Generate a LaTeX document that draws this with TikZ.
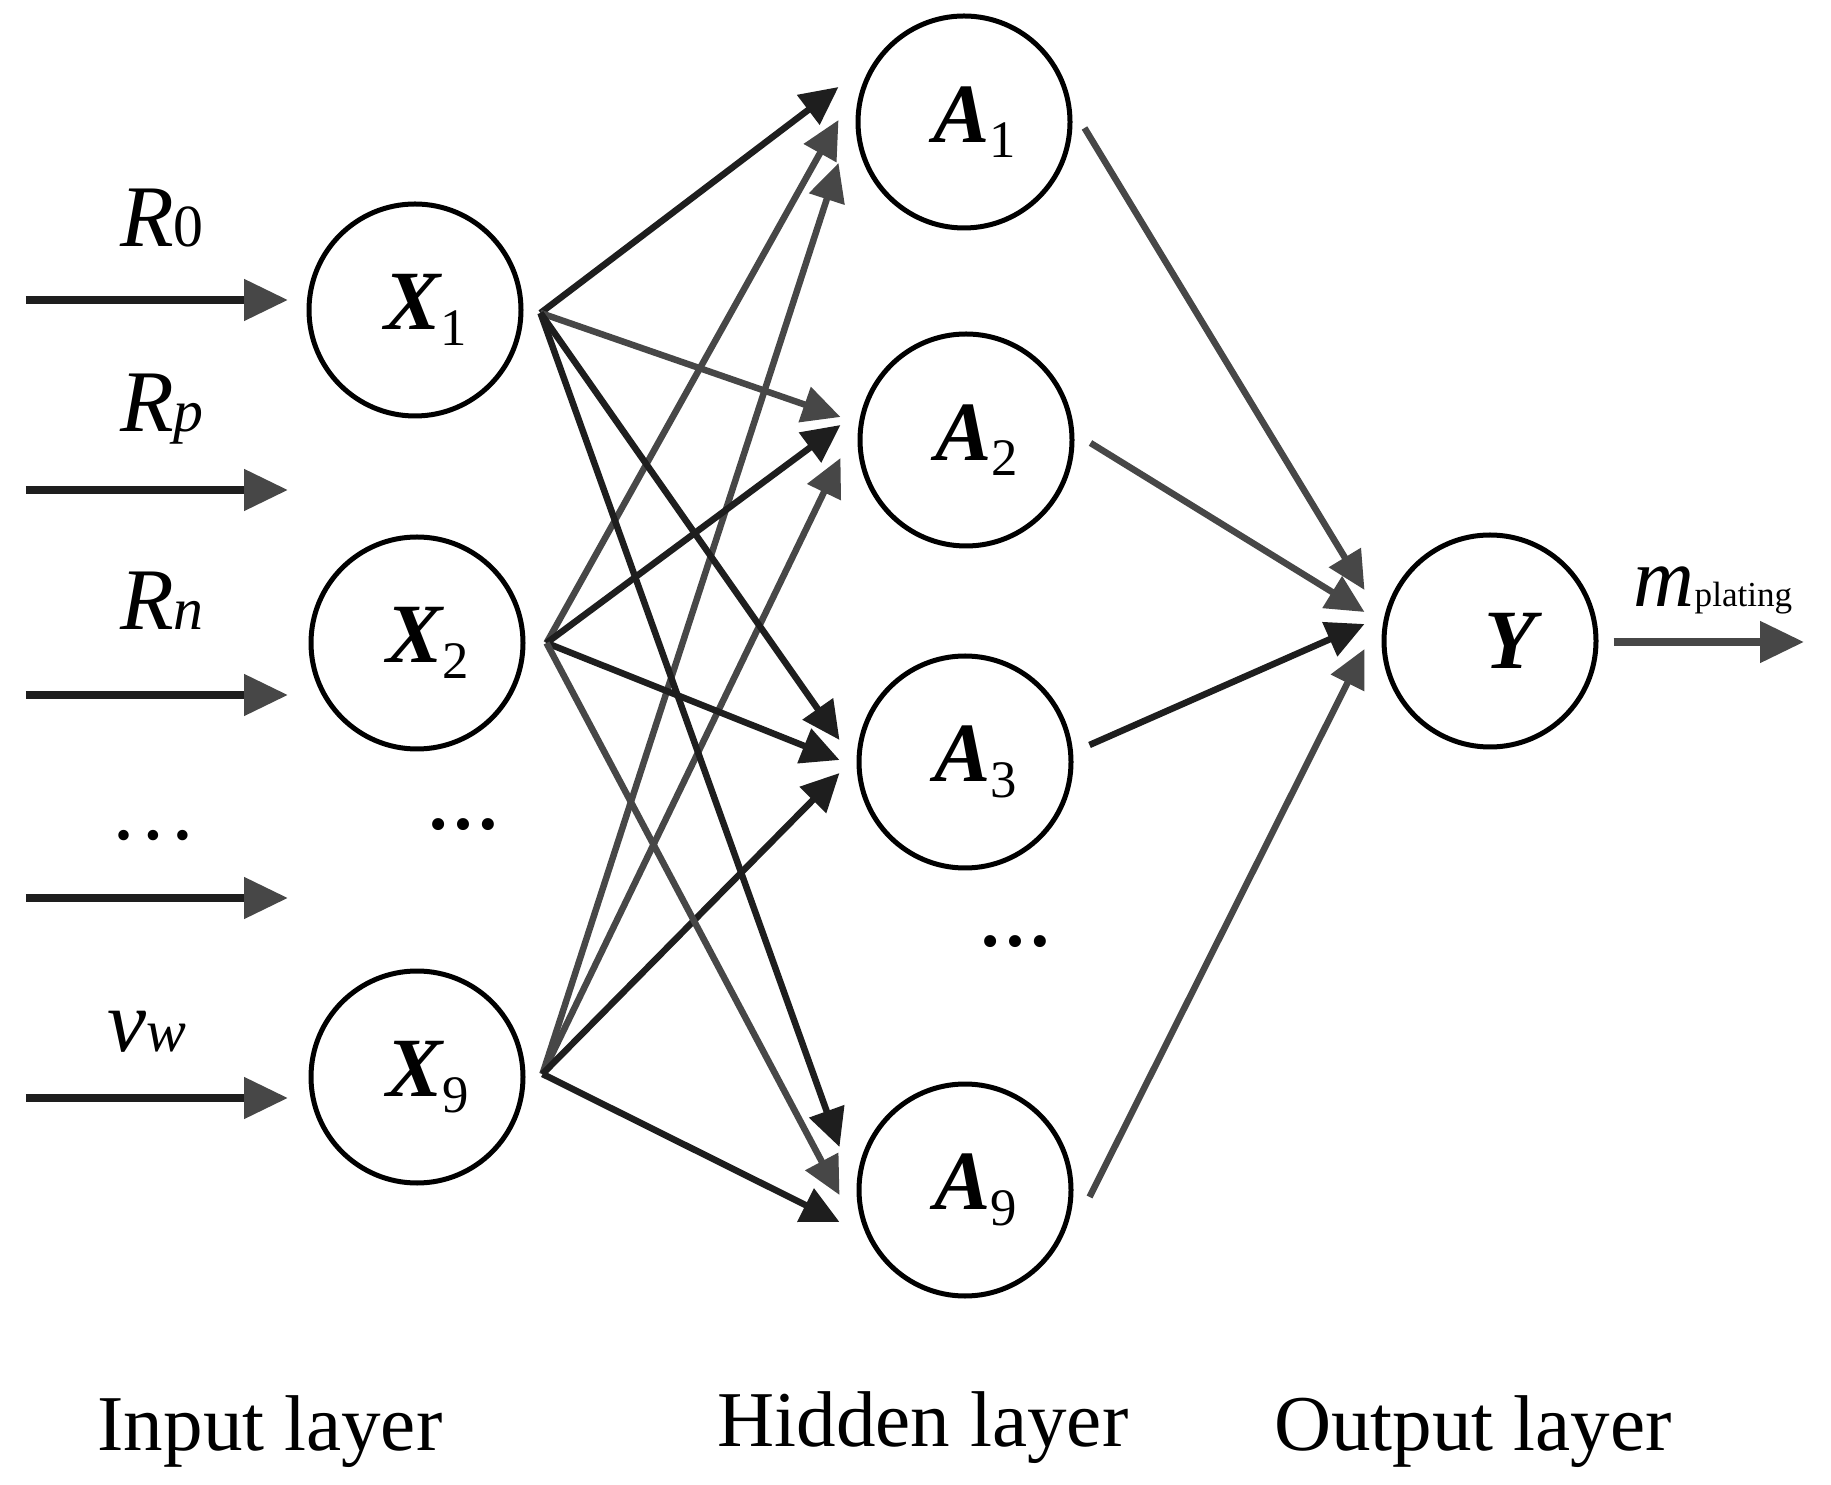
\documentclass[tikz,border=0pt]{standalone}
\usepackage{fontspec}
\setmainfont{Liberation Serif}
\usetikzlibrary{arrows.meta,positioning}

\definecolor{dk}{HTML}{1E1E1E}
\definecolor{gr}{HTML}{474747}

% node text: bold italic letter with a lowered index
\newcommand{\nlab}[2]{\hspace{0.22cm}{\bfseries\itshape #1}\raisebox{-0.4ex}{\fontsize{15}{17}\selectfont #2}}
% input names: italic letter, smaller index on the baseline
\newcommand{\ilab}[2]{{\itshape #1}{\fontsize{17}{19}\selectfont #2}}

\tikzset{
  neuron/.style={draw, circle, line width=0.05cm, minimum size=2.12cm, inner sep=0pt,
    font=\fontsize{24}{28}\selectfont},
  link/.style={line width=0.065cm, -{Triangle[length=0.38cm,width=0.36cm]}},
  feed/.style={line width=0.08cm, dk, -{Triangle[length=0.44cm,width=0.40cm,color=gr]}},
  varname/.style={anchor=base, font=\fontsize{25}{30}\selectfont},
  layername/.style={anchor=base, font=\fontsize{22.5}{27}\selectfont},
  skipdots/.style={font=\bfseries\fontsize{21}{24}\selectfont}
}

\begin{document}
\begin{tikzpicture}

\def \gap {0.17cm} % distance between arrow tip and circle

\useasboundingbox (0,0) rectangle (18.31,-14.85);

% input layer
\node[neuron] (x1) at (4.15,-3.10) {\nlab{X}{1}};
\node[neuron] (x2) at (4.17,-6.43) {\nlab{X}{2}};
\node[neuron] (x9) at (4.17,-10.77) {\nlab{X}{9}};
\node[skipdots] (xdots) at (4.63,-8.25) {…};

% hidden layer
\node[neuron] (a1) at (9.64,-1.22) {\nlab{A}{1}};
\node[neuron] (a2) at (9.66,-4.40) {\nlab{A}{2}};
\node[neuron] (a3) at (9.65,-7.62) {\nlab{A}{3}};
\node[neuron] (a9) at (9.65,-11.90) {\nlab{A}{9}};
\node[skipdots] (adots) at (10.15,-9.42) {…};

% output layer
\node[neuron] (y) at (14.90,-6.41) {\hspace{0.46cm}\textbf{\textit{Y}}};

% inputs
\foreach \i/\y in {1/-3.00, 2/-4.90, 3/-6.95, 4/-8.98, 5/-10.98}
{
  \coordinate (in\i) at (0.26,\y);
  \coordinate (to\i) at (2.88,\y);
  \draw[feed] (in\i) -- (to\i);
}
\node[varname] (r0) at (1.62,-2.47) {\ilab{R}{0}};
\node[varname] (rp) at (1.62,-4.32) {\ilab{R}{\itshape p}};
\node[varname] (rn) at (1.62,-6.30) {\ilab{R}{\itshape n}};
\node[varname] (indots) at (1.53,-8.40) {…};
\node[varname] (vw) at (1.47,-10.51) {\ilab{v}{\itshape w}};

% input -> hidden
\coordinate (x1o) at ([xshift=0.17cm,yshift=-0.03cm]x1.east);
\coordinate (x2o) at ([xshift=0.21cm]x2.east);
\coordinate (x9o) at ([xshift=0.17cm,yshift=0.03cm]x9.east);
\foreach \s/\t/\dy/\c in {x1o/a1/0.35/dk, x2o/a1/0.02/gr, x9o/a1/-0.41/gr,
                          x1o/a2/0.23/gr, x2o/a2/0.15/dk, x9o/a2/-0.18/gr,
                          x1o/a3/0.22/dk, x2o/a3/0.02/dk, x9o/a3/-0.11/dk,
                          x1o/a9/0.43/dk, x2o/a9/-0.05/gr, x9o/a9/-0.32/dk}
  \draw[link, \c] (\s) -- ([xshift=-\gap, yshift=\dy cm]\t.west);

% hidden -> output
\coordinate (a1o) at ([xshift=0.12cm,yshift=-0.06cm]a1.east);
\coordinate (a2o) at ([xshift=0.16cm,yshift=-0.03cm]a2.east);
\coordinate (a3o) at ([xshift=0.16cm,yshift=0.17cm]a3.east);
\coordinate (a9o) at ([xshift=0.16cm,yshift=-0.07cm]a9.east);
\foreach \s/\dy/\c in {a1o/0.51/gr, a2o/0.29/gr, a3o/0.17/dk, a9o/-0.08/gr}
  \draw[link, \c] (\s) -- ([xshift=-\gap, yshift=\dy cm]y.west);

% output
\coordinate (yo) at ([xshift=0.15cm,yshift=-0.01cm]y.east);
\coordinate (out) at (18.04,-6.42);
\draw[feed, gr] (yo) -- (out);
\node[varname] (mp) at (17.13,-6.07) {{\fontsize{24}{28}\selectfont\itshape m}{\fontsize{10}{12}\selectfont plating}};

% layer names
\node[layername] (inl) at (2.70,-14.50) {Input layer};
\node[layername] (hidl) at (9.23,-14.46) {Hidden layer};
\node[layername] (outl) at (14.73,-14.50) {Output layer};

\end{tikzpicture}
\end{document}
